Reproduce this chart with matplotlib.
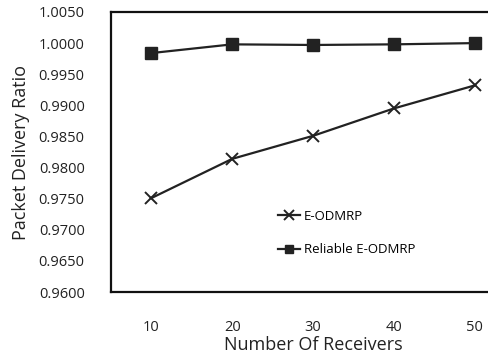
import matplotlib
matplotlib.use("Agg")
import matplotlib.pyplot as plt

plt.rcParams['font.family'] = ['Open Sans', 'DejaVu Sans']

# Datos
receptores = [10, 20, 30, 40, 50]
e_odmrp = [0.9751, 0.9814, 0.9851, 0.9895, 0.9932]
e_odmrp_fiable = [0.9984, 0.9998, 0.9997, 0.9998, 1.0000]
yticks = [0.9600, 0.9650, 0.9700, 0.9750, 0.9800, 0.9850, 0.9900, 0.9950, 1.0000, 1.0050]

fig = plt.figure(figsize=(4.88, 3.59), dpi=100)
# los ejes se salen por la derecha (recorte de la imagen original)
ax = fig.add_axes([0.2275, 0.1866, 0.828, 0.78])

ax.plot(receptores, e_odmrp, color='#222222', lw=1.6, marker='x', ms=9,
        mew=1.4, label='E-ODMRP')
ax.plot(receptores, e_odmrp_fiable, color='#222222', lw=1.6, marker='s', ms=8,
        label='Reliable E-ODMRP')

ax.set_xlim(5, 55)
ax.set_ylim(0.9600, 1.0050)
ax.set_xticks(receptores)
ax.set_yticks(yticks)
ax.set_yticklabels([f"{v:.4f}" for v in yticks])
ax.tick_params(length=0, labelsize=10.5, colors='#222222')
ax.tick_params(axis='y', pad=19)
ax.tick_params(axis='x', pad=20)

for s in ['left', 'bottom', 'top']:
    ax.spines[s].set_linewidth(1.6)
    ax.spines[s].set_color('#111111')
ax.spines['right'].set_visible(False)

ax.set_xlabel('Number Of Receivers', fontsize=13, color='#222222', labelpad=1)
ax.set_ylabel('Packet Delivery Ratio', fontsize=13, color='#222222', labelpad=6)

fig.legend(loc='upper left', bbox_to_anchor=(0.545, 0.448), frameon=False,
           fontsize=9.5, handlelength=1.7, handletextpad=0.3, labelspacing=1.55,
           markerscale=0.8)

fig.savefig('out.png', dpi=100)
